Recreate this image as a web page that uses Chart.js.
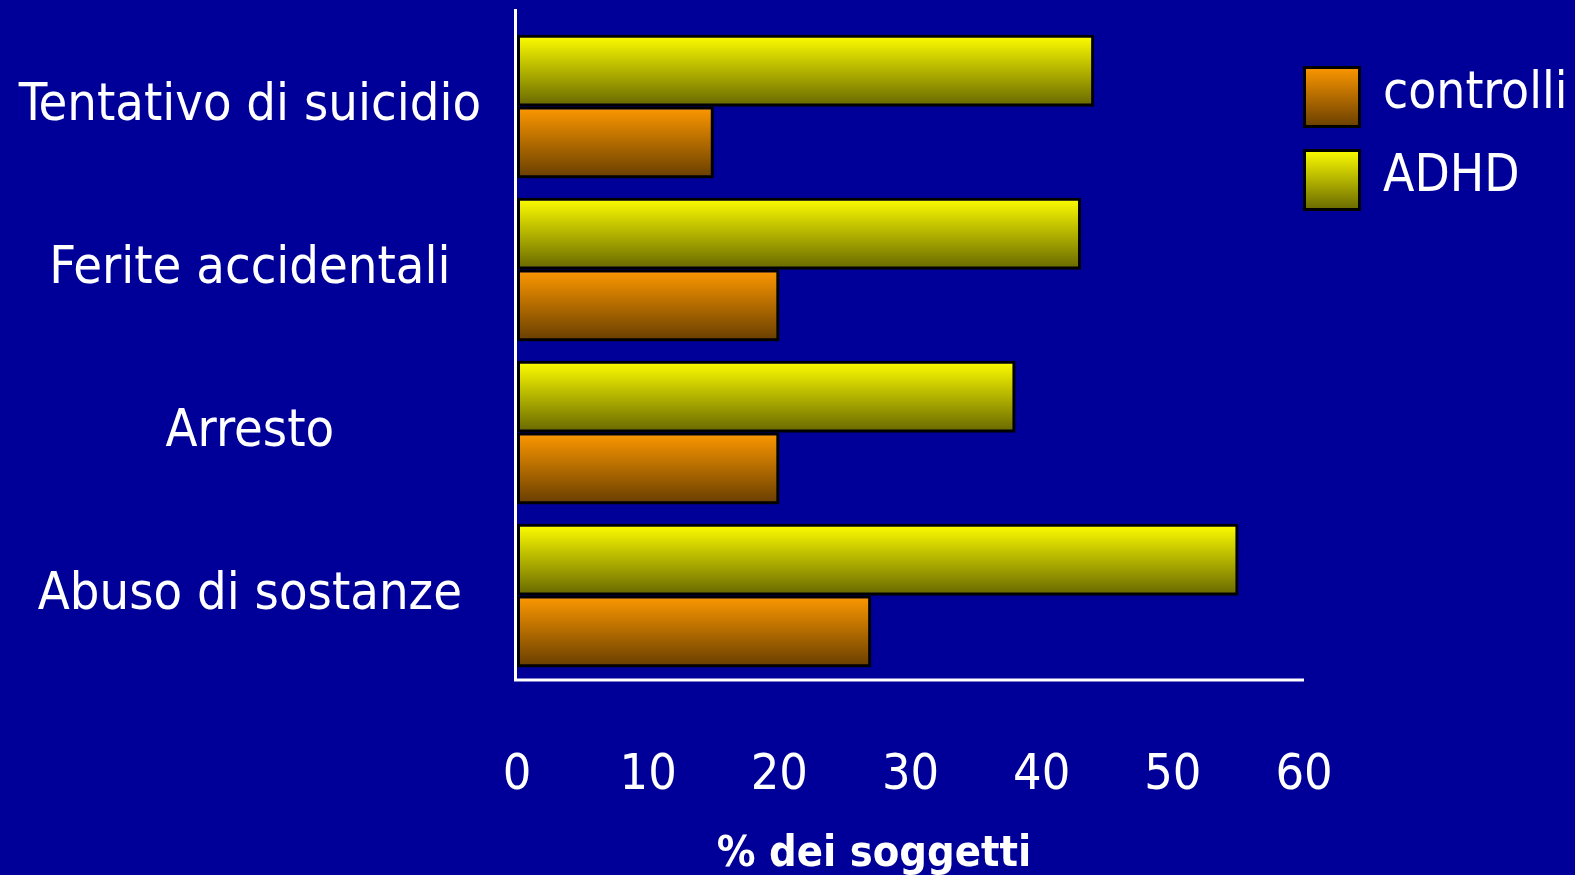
<!DOCTYPE html>
<html>
<head>
<meta charset="utf-8">
<script src="https://cdn.jsdelivr.net/npm/chart.js@4"></script>
<style>
  html, body { margin: 0; padding: 0; background: #000099; }
  #wrap { width: 1575px; height: 875px; position: relative; }
</style>
</head>
<body>
<div id="wrap"><canvas id="chart"></canvas></div>
<script>
// Data
const categories = ["Tentativo di suicidio", "Ferite accidentali", "Arresto", "Abuso di sostanze"];
const adhdValues = [44, 43, 38, 55];
const controlValues = [15, 20, 20, 27];
const xTicks = [0, 10, 20, 30, 40, 50, 60];
const xTitle = '% dei soggetti';

const FONT = "'DejaVu Sans Condensed', 'DejaVu Sans', sans-serif";
const CAT_PCT = 0.88;

const yellowStops = ['#ffff00', '#666600'];
const orangeStops = ['#ff9900', '#663d00'];

// vertical gradient for each bar, from the y scale
function barFill(stops, half) {
  return function (c) {
    const chart = c.chart;
    const y = chart.scales.y;
    if (!y || !chart.chartArea) return stops[0];
    const catH = (y.bottom - y.top) / categories.length;
    const center = y.getPixelForValue(c.dataIndex);
    const h = catH * CAT_PCT / 2;
    const top = half === 0 ? center - h : center;
    const g = chart.ctx.createLinearGradient(0, top, 0, top + h);
    g.addColorStop(0, stops[0]);
    g.addColorStop(1, stops[1]);
    return g;
  };
}

// shadow under bars
const shadowPlugin = {
  id: 'shadow',
  beforeDatasetsDraw(chart) {
    const ctx = chart.ctx;
    ctx.save();
    ctx.shadowColor = 'rgba(0,0,0,0.7)';
    ctx.shadowOffsetX = 3;
    ctx.shadowOffsetY = 3;
    ctx.shadowBlur = 2;
  },
  afterDatasetsDraw(chart) {
    chart.ctx.restore();
  }
};

// white L-shaped axis lines + axis title (sits left of centre in the original)
const axisPlugin = {
  id: 'axisLines',
  afterDraw(chart) {
    const { ctx, chartArea } = chart;
    ctx.save();
    ctx.strokeStyle = '#ffffff';
    ctx.lineWidth = 3;
    ctx.beginPath();
    ctx.moveTo(chartArea.left - 1.5, 9);
    ctx.lineTo(chartArea.left - 1.5, chartArea.bottom + 3);
    ctx.lineTo(chartArea.right, chartArea.bottom + 3);
    ctx.stroke();

    ctx.fillStyle = '#ffffff';
    ctx.font = 'bold 43px ' + FONT;
    ctx.textAlign = 'center';
    ctx.textBaseline = 'middle';
    ctx.fillText(xTitle, chartArea.left + 357, chartArea.bottom + 178);
    ctx.restore();
  }
};

// legend at top right: controlli, ADHD
const legendPlugin = {
  id: 'sideLegend',
  afterDraw(chart) {
    const { ctx, chartArea } = chart;
    const items = [
      { text: 'controlli', stops: orangeStops, y: 66 },
      { text: 'ADHD', stops: yellowStops, y: 149 }
    ];
    const x = chartArea.right - 1;
    ctx.save();
    items.forEach(it => {
      const g = ctx.createLinearGradient(0, it.y, 0, it.y + 62);
      g.addColorStop(0, it.stops[0]);
      g.addColorStop(1, it.stops[1]);
      ctx.fillStyle = g;
      ctx.fillRect(x, it.y, 58, 62);
      ctx.strokeStyle = '#000000';
      ctx.lineWidth = 3;
      ctx.strokeRect(x + 1.5, it.y + 1.5, 55, 59);
      ctx.fillStyle = '#ffffff';
      ctx.font = '51px ' + FONT;
      ctx.textBaseline = 'middle';
      ctx.textAlign = 'left';
      ctx.fillText(it.text, x + 80, it.y + 29);
    });
    ctx.restore();
  }
};

const ctx = document.getElementById('chart').getContext('2d');
new Chart(ctx, {
  type: 'bar',
  data: {
    labels: categories,
    datasets: [
      {
        label: 'ADHD',
        data: adhdValues,
        backgroundColor: barFill(yellowStops, 0),
        borderColor: '#000000',
        borderWidth: 3,
        borderSkipped: false,
        categoryPercentage: CAT_PCT,
        barPercentage: 1
      },
      {
        label: 'controlli',
        data: controlValues,
        backgroundColor: barFill(orangeStops, 1),
        borderColor: '#000000',
        borderWidth: 3,
        borderSkipped: false,
        categoryPercentage: CAT_PCT,
        barPercentage: 1
      }
    ]
  },
  options: {
    indexAxis: 'y',
    responsive: true,
    maintainAspectRatio: false,
    animation: false,
    layout: { padding: { top: 25, right: 271, left: 0, bottom: 0 } },
    plugins: {
      legend: { display: false },
      tooltip: { enabled: false }
    },
    scales: {
      x: {
        min: 0,
        max: 60,
        afterBuildTicks(scale) {
          scale.ticks = xTicks.map(v => ({ value: v }));
        },
        afterFit(scale) {
          scale.height = 198;
          scale.paddingLeft = 0;
          scale.paddingRight = 0;
        },
        grid: { display: false, drawTicks: false },
        border: { display: false },
        ticks: {
          color: '#ffffff',
          font: { family: FONT, size: 50 },
          padding: 69,
          maxRotation: 0,
          autoSkip: false
        }
      },
      y: {
        afterFit(scale) {
          scale.width = 517;
          scale.paddingTop = 0;
          scale.paddingBottom = 0;
        },
        grid: { display: false, drawTicks: false },
        border: { display: false },
        ticks: {
          color: '#ffffff',
          font: { family: FONT, size: 52 },
          crossAlign: 'center',
          padding: 36
        }
      }
    }
  },
  plugins: [shadowPlugin, axisPlugin, legendPlugin]
});
</script>
</body>
</html>
